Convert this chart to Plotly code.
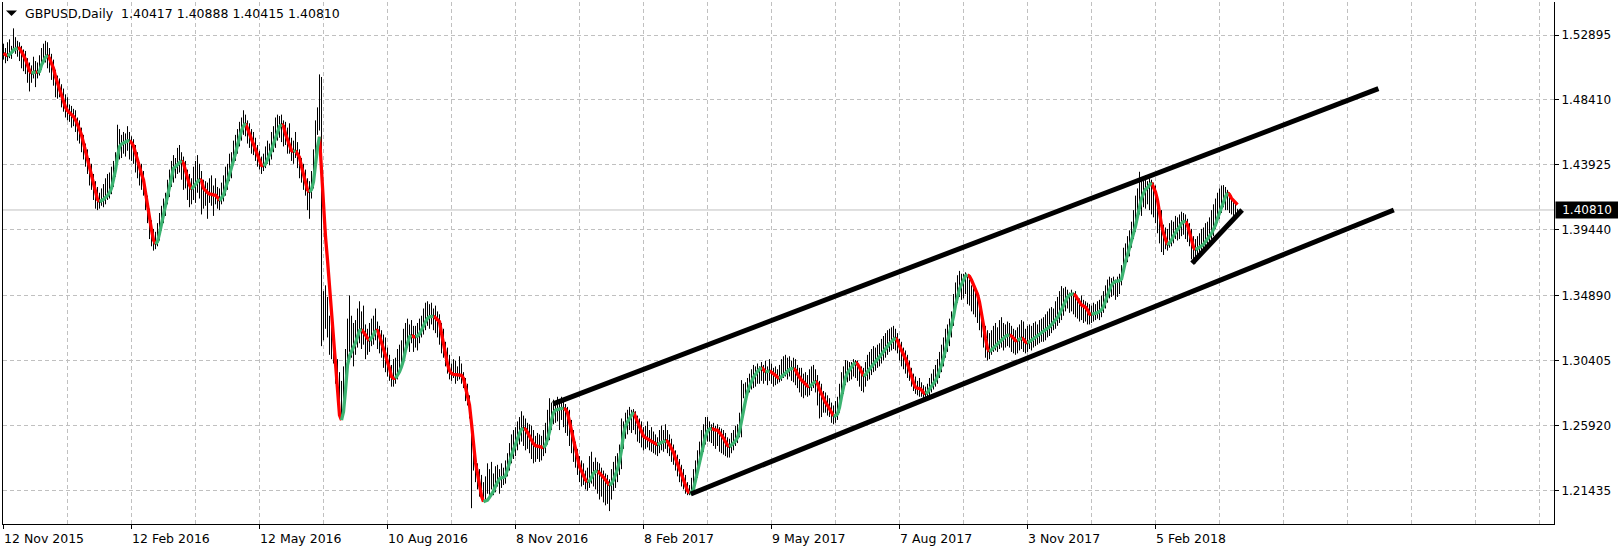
import plotly.graph_objects as go

# ---------------- data ----------------
symbol = "GBPUSD,Daily"
last_ohlc = [1.40417, 1.40888, 1.40415, 1.40810]

date_labels = ["12 Nov 2015", "12 Feb 2016", "12 May 2016", "10 Aug 2016", "8 Nov 2016",
               "8 Feb 2017", "9 May 2017", "7 Aug 2017", "3 Nov 2017", "5 Feb 2018"]
date_bars = [0, 64, 128, 192, 256, 320, 384, 448, 512, 576]   # bar index of each label
grid_step_bars = 32

price_ticks = [1.21435, 1.25920, 1.30405, 1.34890, 1.39440, 1.43925, 1.48410, 1.52895]

# daily bars, values in pips above 1.0000 (price = 1 + v / 10000)
high_pips = [
    5230, 5200, 5240, 5260, 5215, 5336, 5275, 5250, 5240, 5215,
    5190, 5180, 5130, 5100, 5080, 5140, 5110, 5100, 5150, 5200,
    5230, 5250, 5240, 5200, 5160, 5120, 5050, 5010, 4990, 4950,
    4920, 4880, 4860, 4810, 4800, 4780, 4770, 4720, 4700, 4650,
    4600, 4540, 4500, 4440, 4400, 4330, 4280, 4240, 4200, 4230,
    4260, 4300, 4330, 4340, 4380, 4420, 4480, 4670, 4640, 4600,
    4620, 4610, 4660, 4620, 4590, 4570, 4530, 4480, 4410, 4400,
    4350, 4250, 4180, 4090, 4010, 3950, 3930, 3990, 4060, 4110,
    4160, 4200, 4290, 4360, 4420, 4460, 4440, 4510, 4530, 4480,
    4450, 4420, 4360, 4330, 4300, 4380, 4420, 4460, 4400, 4350,
    4290, 4280, 4270, 4300, 4320, 4250, 4300, 4240, 4230, 4270,
    4320, 4380, 4400, 4470, 4480, 4560, 4600, 4640, 4690, 4720,
    4770, 4740, 4700, 4680, 4640, 4620, 4580, 4530, 4490, 4450,
    4470, 4520, 4560, 4540, 4620, 4660, 4720, 4740, 4730, 4740,
    4700, 4690, 4650, 4680, 4580, 4560, 4620, 4550, 4500, 4440,
    4400, 4360, 4300, 4280, 4350, 4500, 4700, 4790, 5018, 5000,
    3520, 3560, 3480, 3350, 3300, 3280, 3120, 3050, 2960, 2900,
    3000, 3120, 3330, 3490, 3350, 3300, 3320, 3400, 3450, 3380,
    3420, 3290, 3260, 3300, 3330, 3350, 3400, 3310, 3280, 3250,
    3220, 3200, 3130, 3080, 3010, 3050, 3060, 3120, 3150, 3180,
    3260, 3300, 3330, 3290, 3320, 3280, 3280, 3300, 3330, 3350,
    3400, 3440, 3450, 3430, 3440, 3400, 3420, 3380, 3360, 3300,
    3260, 3170, 3130, 3080, 3020, 3050, 3040, 3000, 3070, 3020,
    2960, 2920, 2880, 2800, 2620, 2480, 2380, 2330, 2290, 2250,
    2200, 2240, 2330, 2290, 2340, 2260, 2310, 2320, 2290, 2330,
    2300, 2350, 2400, 2470, 2530, 2560, 2580, 2620, 2650, 2690,
    2660, 2640, 2610, 2600, 2590, 2560, 2520, 2540, 2530, 2520,
    2560, 2610, 2700, 2780, 2750, 2770, 2760, 2790, 2750, 2790,
    2770, 2740, 2720, 2700, 2630, 2560, 2480, 2430, 2380, 2350,
    2330, 2280, 2300, 2380, 2410, 2340, 2370, 2340, 2330, 2300,
    2280, 2260, 2250, 2220, 2290, 2340, 2380, 2400, 2460, 2640,
    2620, 2680, 2700, 2720, 2700, 2705, 2690, 2660, 2640, 2620,
    2580, 2590, 2620, 2560, 2580, 2550, 2530, 2510, 2560, 2590,
    2560, 2600, 2560, 2530, 2500, 2460, 2420, 2390, 2360, 2320,
    2290, 2250, 2200, 2180, 2230, 2290, 2350, 2420, 2480, 2560,
    2600, 2650, 2650, 2620, 2600, 2610, 2590, 2600, 2580, 2570,
    2560, 2540, 2510, 2500, 2540, 2560, 2590, 2600, 2680, 2905,
    2880, 2890, 2920, 2950, 2980, 3010, 3000, 3020, 3000, 3030,
    3010, 3040, 3000, 3050, 3020, 2990, 3000, 2980, 3010, 3050,
    3070, 3080, 3060, 3070, 3040, 3060, 3050, 3010, 2990, 2990,
    2950, 2960, 2940, 2980, 3000, 3010, 2980, 2940, 2900, 2880,
    2830, 2820, 2800, 2780, 2750, 2730, 2760, 2790, 2880, 2960,
    3000, 3044, 3040, 3030, 3030, 3050, 3044, 3040, 3010, 3000,
    2990, 3030, 3080, 3100, 3120, 3140, 3130, 3150, 3160, 3190,
    3210, 3230, 3250, 3260, 3270, 3280, 3260, 3230, 3190, 3170,
    3130, 3110, 3080, 3040, 2990, 2950, 2930, 2900, 2920, 2890,
    2870, 2860, 2880, 2920, 2950, 2980, 3010, 3050, 3100, 3150,
    3200, 3260, 3290, 3330, 3380, 3500, 3580, 3630, 3660, 3640,
    3640, 3650, 3620, 3600, 3560, 3540, 3520, 3480, 3420, 3380,
    3330, 3280, 3250, 3230, 3250, 3280, 3300, 3270, 3320, 3340,
    3300, 3290, 3310, 3300, 3280, 3260, 3250, 3270, 3290, 3320,
    3310, 3260, 3280, 3290, 3280, 3300, 3310, 3290, 3320, 3330,
    3340, 3360, 3380, 3400, 3410, 3400, 3450, 3480, 3520, 3555,
    3540, 3550, 3530, 3510, 3530, 3510, 3520, 3480, 3470, 3490,
    3460, 3450, 3440, 3430, 3420, 3440, 3430, 3450, 3460, 3490,
    3520, 3560, 3600, 3620, 3610, 3620, 3600, 3620, 3640, 3700,
    3820, 3850, 3900, 3940, 4000, 4080, 4180, 4230, 4345, 4300,
    4290, 4320, 4280, 4300, 4290, 4270, 4250, 4150, 4100, 4080,
    3980, 3960, 3950, 3990, 4010, 4000, 4040, 4030, 4050, 4069,
    4060, 4050, 4020, 3990, 3950, 3900, 3880, 3900, 3920, 3950,
    3960, 3990, 4000, 4030, 4080, 4120, 4160, 4200, 4230, 4250,
    4253, 4240, 4220, 4200, 4180, 4150, 4130, 4089,
]
low_pips = [
    5120, 5095, 5110, 5130, 5125, 5170, 5160, 5140, 5110, 5060,
    5040, 5020, 4960, 4900, 4960, 4990, 4930, 4990, 5010, 5050,
    5090, 5100, 5060, 5030, 4980, 4940, 4860, 4850, 4860, 4790,
    4760, 4720, 4700, 4690, 4650, 4660, 4620, 4560, 4540, 4480,
    4430, 4380, 4330, 4250, 4220, 4150, 4090, 4080, 4090, 4110,
    4100, 4120, 4150, 4160, 4190, 4240, 4310, 4400, 4430, 4440,
    4470, 4450, 4490, 4430, 4420, 4400, 4340, 4300, 4250, 4220,
    4180, 4080, 3990, 3880, 3830, 3800, 3810, 3830, 3870, 3940,
    3990, 4040, 4120, 4170, 4240, 4270, 4300, 4330, 4340, 4290,
    4220, 4230, 4150, 4100, 4120, 4150, 4130, 4200, 4160, 4050,
    4090, 4110, 4020, 4130, 4110, 4040, 4120, 4090, 4080, 4120,
    4140, 4180, 4220, 4280, 4300, 4390, 4420, 4470, 4520, 4560,
    4600, 4590, 4540, 4510, 4470, 4460, 4420, 4380, 4360, 4330,
    4350, 4370, 4400, 4390, 4430, 4480, 4510, 4560, 4580, 4550,
    4520, 4530, 4470, 4470, 4420, 4400, 4440, 4370, 4300, 4270,
    4220, 4180, 4080, 4020, 4160, 4230, 4380, 4600, 4630, 3140,
    3180, 3260, 3200, 3080, 3050, 3020, 2880, 2750, 2660, 2640,
    2700, 2880, 3040, 3100, 3060, 3000, 3080, 3130, 3160, 3120,
    3150, 3050, 3080, 3100, 3140, 3150, 3180, 3120, 3090, 3060,
    2990, 2960, 2930, 2900, 2860, 2860, 2880, 2910, 2950, 3010,
    3050, 3120, 3130, 3100, 3160, 3100, 3130, 3110, 3160, 3200,
    3220, 3250, 3280, 3260, 3290, 3250, 3230, 3200, 3150, 3090,
    3060, 3000, 2950, 2910, 2900, 2920, 2880, 2900, 2910, 2880,
    2850, 2760, 2730, 2640, 2020, 2280, 2200, 2150, 2100, 2080,
    2070, 2080, 2120, 2100, 2150, 2110, 2130, 2170, 2120, 2160,
    2180, 2190, 2240, 2280, 2330, 2360, 2380, 2420, 2460, 2480,
    2450, 2420, 2430, 2400, 2360, 2330, 2340, 2360, 2340, 2350,
    2380, 2400, 2460, 2490, 2560, 2600, 2610, 2620, 2560, 2630,
    2580, 2540, 2520, 2450, 2400, 2340, 2300, 2250, 2200, 2170,
    2180, 2150, 2140, 2160, 2190, 2170, 2150, 2120, 2080, 2100,
    2060, 2040, 2050, 2000, 2080, 2140, 2160, 2200, 2250, 2290,
    2430, 2500, 2530, 2560, 2540, 2560, 2530, 2480, 2470, 2440,
    2420, 2430, 2440, 2420, 2410, 2400, 2390, 2380, 2400, 2420,
    2410, 2430, 2400, 2380, 2340, 2320, 2280, 2240, 2200, 2170,
    2150, 2120, 2110, 2110, 2120, 2140, 2180, 2230, 2300, 2360,
    2410, 2460, 2480, 2480, 2470, 2450, 2430, 2450, 2410, 2400,
    2390, 2380, 2370, 2370, 2400, 2420, 2450, 2470, 2510, 2510,
    2780, 2790, 2800, 2820, 2840, 2850, 2860, 2880, 2880, 2900,
    2880, 2900, 2870, 2900, 2880, 2860, 2870, 2880, 2890, 2900,
    2920, 2930, 2910, 2930, 2900, 2890, 2870, 2850, 2820, 2790,
    2780, 2800, 2790, 2800, 2830, 2850, 2820, 2730, 2640, 2650,
    2680, 2680, 2660, 2650, 2610, 2600, 2610, 2630, 2680, 2760,
    2810, 2870, 2890, 2900, 2910, 2930, 2920, 2900, 2860, 2830,
    2820, 2860, 2900, 2910, 2940, 2960, 2970, 2990, 3000, 3020,
    3040, 3060, 3080, 3100, 3110, 3120, 3110, 3090, 3040, 3000,
    2980, 2950, 2920, 2900, 2860, 2830, 2810, 2800, 2790, 2790,
    2780, 2770, 2780, 2800, 2820, 2840, 2860, 2880, 2920, 2960,
    3000, 3060, 3100, 3140, 3200, 3280, 3380, 3440, 3480, 3460,
    3470, 3500, 3430, 3420, 3380, 3360, 3340, 3300, 3250, 3200,
    3130, 3060, 3040, 3050, 3080, 3100, 3110, 3100, 3120, 3130,
    3110, 3130, 3140, 3130, 3100, 3090, 3080, 3090, 3110, 3120,
    3100, 3090, 3100, 3120, 3110, 3130, 3140, 3150, 3160, 3170,
    3170, 3180, 3200, 3210, 3230, 3250, 3260, 3280, 3300, 3320,
    3350, 3380, 3400, 3370, 3380, 3360, 3340, 3330, 3310, 3320,
    3300, 3310, 3290, 3290, 3300, 3310, 3320, 3330, 3320, 3340,
    3370, 3400, 3440, 3470, 3480, 3490, 3460, 3480, 3500, 3560,
    3640, 3690, 3720, 3760, 3820, 3880, 3930, 4000, 4050, 4040,
    4100, 4090, 4120, 4080, 4050, 4030, 3990, 3920, 3850, 3790,
    3770, 3810, 3800, 3820, 3830, 3850, 3880, 3870, 3880, 3900,
    3910, 3880, 3860, 3830, 3740, 3720, 3712, 3740, 3760, 3770,
    3790, 3800, 3820, 3840, 3880, 3900, 3950, 3990, 4020, 4060,
    4100, 4080, 4080, 4060, 4050, 4040, 4040, 4042,
]
# colour-changing moving average (pips above 1.0000)
ma_pips = [
    5164, 5154, 5145, 5154, 5168, 5187, 5196, 5200, 5198, 5175,
    5152, 5122, 5083, 5044, 5025, 5032, 5037, 5030, 5037, 5083,
    5113, 5136, 5150, 5129, 5094, 5060, 5002, 4961, 4910, 4864,
    4830, 4790, 4767, 4754, 4744, 4726, 4703, 4675, 4638, 4599,
    4541, 4491, 4438, 4385, 4323, 4260, 4196, 4154, 4138, 4143,
    4154, 4168, 4180, 4201, 4231, 4293, 4357, 4449, 4518, 4537,
    4546, 4551, 4558, 4560, 4546, 4523, 4472, 4415, 4362, 4330,
    4288, 4196, 4115, 4030, 3943, 3873, 3846, 3862, 3919, 3984,
    4046, 4115, 4184, 4265, 4330, 4369, 4380, 4392, 4408, 4422,
    4403, 4353, 4300, 4254, 4224, 4242, 4258, 4277, 4293, 4283,
    4231, 4214, 4201, 4191, 4191, 4184, 4184, 4168, 4145, 4161,
    4184, 4230, 4276, 4316, 4369, 4426, 4472, 4530, 4581, 4629,
    4661, 4680, 4645, 4606, 4564, 4537, 4500, 4461, 4426, 4389,
    4385, 4399, 4431, 4461, 4495, 4537, 4576, 4622, 4657, 4673,
    4661, 4606, 4564, 4523, 4491, 4484, 4491, 4472, 4445, 4380,
    4323, 4270, 4219, 4205, 4223, 4276, 4403, 4514, 4587, 4357,
    4035, 3896, 3735, 3551, 3366, 3148, 2975, 2802, 2664, 2629,
    2687, 2836, 3009, 3071, 3101, 3131, 3164, 3205, 3247, 3256,
    3240, 3217, 3194, 3177, 3194, 3217, 3251, 3247, 3210, 3164,
    3124, 3090, 3044, 2986, 2929, 2917, 2917, 2940, 2963, 2998,
    3044, 3113, 3170, 3205, 3214, 3205, 3205, 3210, 3224, 3247,
    3279, 3309, 3332, 3343, 3348, 3348, 3337, 3325, 3309, 3228,
    3159, 3078, 3016, 2970, 2952, 2945, 2943, 2940, 2940, 2938,
    2917, 2855, 2809, 2733, 2606, 2445, 2334, 2261, 2180, 2104,
    2065, 2069, 2076, 2095, 2118, 2138, 2173, 2203, 2224, 2231,
    2233, 2242, 2284, 2334, 2387, 2426, 2468, 2503, 2537, 2565,
    2572, 2565, 2544, 2514, 2486, 2466, 2452, 2447, 2445, 2438,
    2438, 2456, 2496, 2549, 2629, 2680, 2698, 2703, 2705, 2710,
    2710, 2703, 2680, 2618, 2549, 2480, 2410, 2348, 2307, 2277,
    2242, 2215, 2203, 2208, 2233, 2261, 2274, 2277, 2265, 2249,
    2233, 2215, 2191, 2178, 2191, 2215, 2250, 2290, 2345, 2422,
    2532, 2587, 2617, 2638, 2661, 2684, 2652, 2617, 2587, 2548,
    2518, 2507, 2498, 2491, 2484, 2477, 2463, 2458, 2468, 2475,
    2479, 2488, 2481, 2458, 2433, 2405, 2364, 2325, 2288, 2256,
    2221, 2175, 2141, 2124, 2127, 2152, 2214, 2283, 2353, 2417,
    2472, 2518, 2553, 2567, 2571, 2564, 2560, 2560, 2546, 2525,
    2505, 2484, 2454, 2445, 2456, 2470, 2486, 2509, 2551, 2629,
    2703, 2763, 2825, 2864, 2894, 2924, 2947, 2965, 2979, 2993,
    2975, 2961, 2963, 2970, 2961, 2949, 2938, 2926, 2917, 2929,
    2942, 2956, 2970, 2979, 2984, 2986, 2975, 2947, 2924, 2905,
    2892, 2878, 2864, 2859, 2871, 2887, 2898, 2882, 2841, 2809,
    2786, 2751, 2731, 2703, 2675, 2657, 2659, 2671, 2717, 2790,
    2871, 2922, 2956, 2979, 2998, 3014, 3028, 3016, 2993, 2963,
    2933, 2943, 2963, 2982, 3002, 3021, 3037, 3051, 3065, 3083,
    3102, 3127, 3143, 3157, 3171, 3187, 3198, 3178, 3141, 3113,
    3083, 3053, 3016, 2979, 2933, 2887, 2855, 2848, 2848, 2837,
    2818, 2811, 2820, 2843, 2860, 2880, 2901, 2931, 2963, 3009,
    3058, 3113, 3164, 3215, 3270, 3343, 3424, 3489, 3535, 3567,
    3602, 3625, 3634, 3622, 3597, 3562, 3528, 3498, 3445, 3378,
    3286, 3194, 3125, 3102, 3113, 3127, 3141, 3155, 3168, 3182,
    3196, 3208, 3214, 3217, 3210, 3196, 3178, 3178, 3187, 3198,
    3187, 3168, 3161, 3170, 3180, 3192, 3203, 3212, 3222, 3232,
    3240, 3247, 3258, 3274, 3288, 3302, 3318, 3337, 3362, 3390,
    3424, 3454, 3479, 3493, 3500, 3500, 3489, 3466, 3442, 3424,
    3417, 3408, 3390, 3362, 3360, 3362, 3366, 3371, 3380, 3390,
    3413, 3445, 3491, 3528, 3562, 3578, 3588, 3590, 3592, 3604,
    3678, 3726, 3770, 3816, 3873, 3922, 3970, 4037, 4099, 4161,
    4196, 4224, 4235, 4251, 4270, 4242, 4205, 4150, 4051, 3977,
    3919, 3873, 3839, 3855, 3873, 3901, 3926, 3947, 3963, 3989,
    4000, 4002, 3977, 3926, 3869, 3823, 3806, 3813, 3823, 3832,
    3843, 3860, 3878, 3899, 3919, 3947, 3977, 4023, 4062, 4104,
    4138, 4173, 4200, 4187, 4161, 4145, 4127, 4118,
]

# trend lines drawn on the chart: (bar index, price) end points
upper_channel_bars = [274.8, 687.45]
upper_channel_prices = [1.27404, 1.49191]
lower_channel_bars = [343.65, 695.15]
lower_channel_prices = [1.21185, 1.40809]
wedge_line_bars = [594.3, 619.3]
wedge_line_prices = [1.37126, 1.40809]

assert len(high_pips) == len(low_pips) == len(ma_pips), (len(high_pips), len(low_pips), len(ma_pips))

# ---------------- derived ----------------
high = [1 + v / 10000 for v in high_pips]
low = [1 + v / 10000 for v in low_pips]
ma = [1 + v / 10000 for v in ma_pips]
n = len(high)
last_close = last_ohlc[3]

FONT = "DejaVu Sans"
GRID = "#C0C0C0"
W, H = 1618, 551
ML, MR, MT, MB = 3, 64, 2, 27
PW, PH = W - ML - MR, H - MT - MB


def px_x(px):
    return (px - ML) / PW


def px_y(py):
    return (H - MB - py) / PH


fig = go.Figure()

# OHLC bars (high-low sticks)
bx, by = [], []
for i in range(n):
    bx += [i, i, None]
    by += [low[i], high[i], None]
fig.add_trace(go.Scatter(x=bx, y=by, mode="lines", line=dict(color="black", width=1),
                         hoverinfo="skip", showlegend=False))

# moving average coloured by direction
runs = []
prev = "up"
for i in range(n - 1):
    d = ma[i + 1] - ma[i]
    c = "up" if d > 0 else ("down" if d < 0 else prev)
    if runs and runs[-1][0] == c:
        runs[-1][1].append(i + 1)
    else:
        runs.append([c, [i, i + 1]])
    prev = c
for col_key, color in (("down", "#FF0000"), ("up", "#3CB371")):
    xs, ys = [], []
    for c, idx in runs:
        if c != col_key:
            continue
        xs += idx + [None]
        ys += [ma[j] for j in idx] + [None]
    fig.add_trace(go.Scatter(x=xs, y=ys, mode="lines", line=dict(color=color, width=3.3),
                             hoverinfo="skip", showlegend=False))

# trend lines
for xs, ys in ((upper_channel_bars, upper_channel_prices),
               (lower_channel_bars, lower_channel_prices),
               (wedge_line_bars, wedge_line_prices)):
    fig.add_trace(go.Scatter(x=xs, y=ys, mode="lines", line=dict(color="black", width=5),
                             hoverinfo="skip", showlegend=False))

x_range = [-0.25, -0.25 + PW / 2.0]
y_range = [1.19108, 1.55182]

shapes = [
    dict(type="line", xref="paper", x0=0, x1=1, yref="y", y0=last_close, y1=last_close,
         line=dict(color=GRID, width=1), layer="below"),
    dict(type="path", xref="paper", yref="paper",
         path="M %f %f L %f %f L %f %f Z" % (px_x(6), px_y(10.5), px_x(17), px_y(10.5),
                                            px_x(11.5), px_y(16)),
         fillcolor="black", line=dict(width=0)),
]

annotations = [
    dict(text=symbol + "  " + " ".join("%.5f" % v for v in last_ohlc),
         xref="paper", yref="paper", x=px_x(24), y=px_y(14), xanchor="left", yanchor="middle",
         showarrow=False, font=dict(family=FONT, size=12.5, color="black"), borderpad=0),
    dict(text="%.5f" % last_close, xref="paper", yref="y", x=1, y=last_close,
         xanchor="left", yanchor="middle", xshift=1, showarrow=False,
         font=dict(family=FONT, size=12, color="white"), bgcolor="black",
         width=58, height=12, borderpad=2, align="center"),
]
for b, lab in zip(date_bars, date_labels):
    annotations.append(dict(text=lab, xref="x", yref="paper", x=b, y=0, xanchor="left",
                            yanchor="middle", yshift=-14, xshift=-1, showarrow=False,
                            borderpad=0, font=dict(family=FONT, size=12.5, color="black")))

fig.update_layout(
    width=W, height=H,
    margin=dict(l=ML, r=MR, t=MT, b=MB, pad=0),
    paper_bgcolor="white", plot_bgcolor="white",
    showlegend=False,
    shapes=shapes, annotations=annotations,
    xaxis=dict(range=x_range, showline=True, linecolor="black", linewidth=1, mirror=False,
               tickmode="array", tickvals=date_bars, ticks="outside", ticklen=4,
               tickcolor="black", showticklabels=False,
               showgrid=True, gridcolor=GRID, griddash="4px,3px", gridwidth=1,
               minor=dict(tickmode="array",
                          tickvals=list(range(0, int(x_range[1]) + 1, grid_step_bars)),
                          showgrid=True, gridcolor=GRID, griddash="4px,3px", ticks=""),
               zeroline=False, fixedrange=True),
    yaxis=dict(range=y_range, side="right", showline=True, linecolor="black", linewidth=1,
               mirror=True, tickmode="array", tickvals=price_ticks,
               ticktext=["%.5f" % v for v in price_ticks], ticks="outside", ticklen=4,
               tickcolor="black", tickfont=dict(family=FONT, size=12, color="black"),
               showgrid=True, gridcolor=GRID, griddash="4px,3px", gridwidth=1,
               zeroline=False, fixedrange=True),
)

fig.write_html("out.html")
